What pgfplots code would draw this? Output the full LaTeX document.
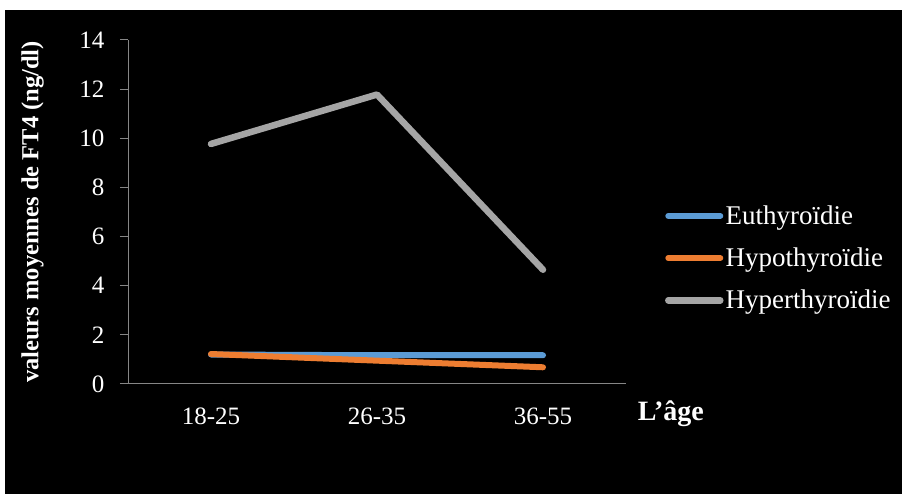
\documentclass[border=0pt]{standalone}
\usepackage{pgfplots}
\pgfplotsset{compat=1.18}
\usepackage{fontspec}
\setmainfont{Liberation Serif}
\definecolor{eu}{HTML}{5B9BD5}
\definecolor{hypo}{HTML}{ED7D31}
\definecolor{hyper}{HTML}{A5A5A5}
\definecolor{axgray}{HTML}{868686}
\begin{document}
\begin{tikzpicture}
\fill[white] (0pt,0pt) rectangle (902pt,494pt);
\fill[black] (5pt,0pt) rectangle (902pt,484pt);
\begin{axis}[
  at={(128pt,110pt)}, anchor=south west,
  scale only axis, width=498pt, height=344pt,
  xmin=-0.5, xmax=2.5, ymin=0, ymax=14,
  axis x line*=bottom, axis y line*=left,
  axis line style={axgray, line width=1pt, -},
  xtick=data, xticklabels={18-25,26-35,36-55},
  ytick={0,2,...,14},
  tick align=outside, major tick length=8pt,
  x tick style={draw=none},
  y tick style={axgray, line width=1pt},
  tick label style={white, font=\fontsize{25}{28}\selectfont},
  /pgf/number format/assume math mode=true,
  yticklabel style={xshift=-12pt},
  xticklabel style={yshift=-12pt},
  ylabel={\textbf{valeurs moyennes de FT4 (ng/dl)}},
  ylabel style={white, font=\fontsize{24.5}{28}\selectfont, at={(axis description cs:-0.162,0.5)}},
  clip=false,
  legend style={at={(axis description cs:1.078,0.366)}, anchor=west, draw=none, fill=none,
    text=white, font=\fontsize{27}{30}\selectfont, inner sep=0pt, row sep=18pt},
  legend cell align=left,
  legend image code/.code={\draw[#1, line cap=round] (0pt,0pt) -- (52pt,0pt);},
  every axis plot/.append style={line cap=round, line join=round},
]
\addplot[eu, line width=6pt] coordinates {(0,1.20) (1,1.17) (2,1.17)};
\addlegendentry{Euthyroïdie}
\addplot[hypo, line width=6pt] coordinates {(0,1.22) (1,0.95) (2,0.68)};
\addlegendentry{Hypothyroïdie}
\addplot[hyper, line width=6.5pt] coordinates {(0,9.77) (1,11.78) (2,4.65)};
\addlegendentry{Hyperthyroïdie}
\node[white, font=\bfseries\fontsize{28}{32}\selectfont] at (axis description cs:1.09,-0.085) {L’âge};
\end{axis}
\end{tikzpicture}
\end{document}
